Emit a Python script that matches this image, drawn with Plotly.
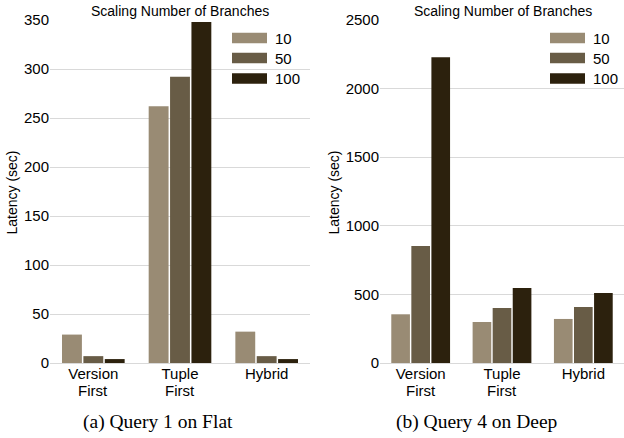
import plotly.graph_objects as go

W, H = 624, 438

categories = ["Version First", "Tuple First", "Hybrid"]
tick_line1 = ["Version", "Tuple", "Hybrid"]
tick_line2 = ["First", "First", ""]
series_names = ["10", "50", "100"]
colors = ["#998b74", "#685c46", "#2c210d"]

flat_q1 = {
    "10": [29, 262, 32],
    "50": [7, 292, 7],
    "100": [4, 348, 4],
}
deep_q4 = {
    "10": [355, 299, 321],
    "50": [853, 401, 408],
    "100": [2228, 547, 510],
}

left_ticks = [0, 50, 100, 150, 200, 250, 300, 350]
right_ticks = [0, 500, 1000, 1500, 2000, 2500]

panel_title = "Scaling Number of Branches"
y_title = "Latency (sec)"
captions = ["(a) Query 1 on Flat", "(b) Query 4 on Deep"]

fig = go.Figure()
for name, col in zip(series_names, colors):
    fig.add_trace(go.Bar(x=categories, y=flat_q1[name], name=name, marker=dict(color=col, line=dict(width=0)),
                         xaxis="x", yaxis="y", showlegend=False))
    fig.add_trace(go.Bar(x=categories, y=deep_q4[name], name=name, marker=dict(color=col, line=dict(width=0)),
                         xaxis="x2", yaxis="y2", showlegend=False))

def px(x):
    return x / W

def py(y):
    return (H - y) / H

SANS = "Liberation Sans, Arial, Helvetica, sans-serif"
SERIF = "Liberation Serif, Times New Roman, serif"
grid = "#d9d9d9"

ydom = [py(363), py(20)]
axis_common = dict(showline=False, ticks="", automargin=False,
                   tickfont=dict(family=SANS, size=15, color="#000"))
xcommon = dict(showgrid=False, zeroline=False, tickmode="array", tickvals=categories, ticktext=tick_line1,
               **axis_common)
fig.update_layout(
    width=W, height=H, autosize=False,
    margin=dict(l=0, r=0, t=0, b=0, pad=0, autoexpand=False),
    paper_bgcolor="white", plot_bgcolor="white",
    barmode="group", bargap=0.26, bargroupgap=0.07,
    xaxis=dict(domain=[px(50), px(310)], anchor="y", **xcommon),
    yaxis=dict(domain=ydom, anchor="x", range=[0, 350], tickvals=left_ticks, showgrid=True, gridcolor=grid,
               gridwidth=1, zeroline=True, zerolinecolor=grid, zerolinewidth=1, **axis_common),
    xaxis2=dict(domain=[px(380), 1.0], anchor="y2", **xcommon),
    yaxis2=dict(domain=ydom, anchor="x2", range=[0, 2500], tickvals=right_ticks, showgrid=True, gridcolor=grid,
                gridwidth=1, zeroline=True, zerolinecolor=grid, zerolinewidth=1, **axis_common),
)

annotations = []
shapes = []
# second line of category labels
for xref in ("x", "x2"):
    for cat, l2 in zip(categories, tick_line2):
        if l2:
            annotations.append(dict(text=l2, x=cat, xref=xref, y=py(390), yref="paper",
                                    xanchor="center", yanchor="middle", showarrow=False,
                                    font=dict(family=SANS, size=15, color="#000")))
for cx in (180, 503):
    annotations.append(dict(text=panel_title, x=px(cx), y=py(11.5), xref="paper", yref="paper",
                            xanchor="center", yanchor="middle", showarrow=False,
                            font=dict(family=SANS, size=14, color="#000")))
for cx in (11, 333):
    annotations.append(dict(text=y_title, x=px(cx), y=py(192.5), xref="paper", yref="paper",
                            xanchor="center", yanchor="middle", showarrow=False, textangle=-90,
                            font=dict(family=SANS, size=14, color="#000")))
for cx, cap in zip((158, 477), captions):
    annotations.append(dict(text=cap, x=px(cx), y=py(421.5), xref="paper", yref="paper",
                            xanchor="center", yanchor="middle", showarrow=False,
                            font=dict(family=SERIF, size=19.5, color="#000")))

rows = [38, 58, 78.5]
for sx in (232, 550):
    for name, col, ry in zip(series_names, colors, rows):
        shapes.append(dict(type="rect", xref="paper", yref="paper", x0=px(sx), x1=px(sx + 35),
                           y0=py(ry + 5.3), y1=py(ry - 5.3), fillcolor=col, line=dict(width=0)))
        annotations.append(dict(text=name, x=px(sx + 41), y=py(ry), xref="paper", yref="paper",
                                xanchor="left", yanchor="middle", showarrow=False,
                                font=dict(family=SANS, size=15, color="#000")))

fig.update_layout(annotations=annotations, shapes=shapes)
fig.write_html("out.html", config={"displayModeBar": False, "responsive": False},
               post_script="document.body.style.margin='0';document.body.style.overflow='hidden';")
